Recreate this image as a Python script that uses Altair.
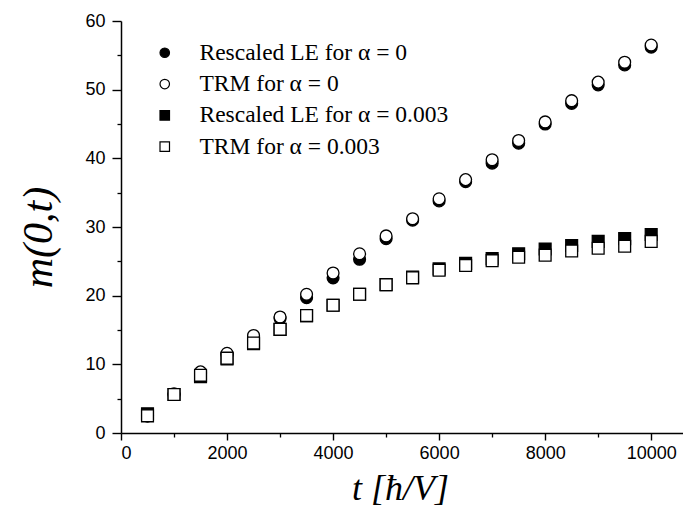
import altair as alt
import pandas as pd

# ---- data ----
t_values = [500, 1000, 1500, 2000, 2500, 3000, 3500, 4000, 4500, 5000,
            5500, 6000, 6500, 7000, 7500, 8000, 8500, 9000, 9500, 10000]

le_alpha0 = [2.5, 5.6, 8.7, 11.4, 14.0, 16.7, 19.7, 22.6, 25.3, 28.3,
             31.0, 33.8, 36.6, 39.3, 42.2, 45.0, 48.0, 50.7, 53.6, 56.2]
trm_alpha0 = [2.5, 5.7, 8.9, 11.6, 14.2, 16.9, 20.2, 23.3, 26.1, 28.7,
              31.2, 34.1, 36.9, 39.8, 42.6, 45.3, 48.4, 51.1, 54.0, 56.5]
le_alpha003 = [2.8, 5.6, 8.2, 10.8, 13.0, 15.1, 17.1, 18.6, 20.2, 21.6,
               22.7, 23.9, 24.7, 25.4, 26.1, 26.8, 27.3, 27.9, 28.3, 28.9]
trm_alpha003 = [2.5, 5.6, 8.4, 10.9, 13.1, 15.1, 17.1, 18.6, 20.2, 21.6,
                22.6, 23.7, 24.4, 25.1, 25.6, 25.9, 26.5, 26.9, 27.2, 27.9]

series_names = ["Rescaled LE for α = 0", "TRM for α = 0",
                "Rescaled LE for α = 0.003", "TRM for α = 0.003"]
series_shapes = ["circle", "circle", "square", "square"]
series_fills = ["black", "white", "black", "white"]
series_strokes = ["black", "black", "black", "black"]

x_major = [0, 2000, 4000, 6000, 8000, 10000]
x_minor = [1000, 3000, 5000, 7000, 9000]
y_major = [0, 10, 20, 30, 40, 50, 60]
y_minor = [5, 15, 25, 35, 45, 55]

rows = []
for i, (name, vals) in enumerate(zip(series_names,
                                     [le_alpha0, trm_alpha0, le_alpha003, trm_alpha003])):
    for tv, mv in zip(t_values, vals):
        rows.append({"t": tv, "m": mv, "series": name, "layer": i})
df = pd.DataFrame(rows)

x_scale = alt.Scale(domain=[0, 10600], nice=False, zero=False)
y_scale = alt.Scale(domain=[0, 60], nice=False)

SERIF = "Times New Roman, Liberation Serif, serif"

legend = alt.Legend(
    orient="none", legendX=32, legendY=20, title=None,
    labelFont=SERIF, labelFontSize=23.5, labelColor="black",
    labelLimit=0, labelOffset=23, rowPadding=6.3, padding=0,
    symbolSize=90, symbolStrokeWidth=1.2,
)

points = alt.Chart(df).mark_point(
    filled=True, size=140, strokeWidth=1.3, opacity=1
).encode(
    x=alt.X("t:Q", scale=x_scale,
            axis=alt.Axis(orient="bottom", values=x_major, format="d",
                          title="t [ħ/V]", titleFont=SERIF,
                          titleFontStyle="italic", titleFontWeight="normal",
                          titleFontSize=36, titleColor="black",
                          titleX=279, titleY=66, titleBaseline="alphabetic",
                          titleAlign="center",
                          labelFont="Liberation Sans", labelFontSize=18,
                          labelColor="black", labelPadding=4,
                          tickSize=7, tickWidth=1.4, tickColor="black",
                          domainColor="black", domainWidth=1.5, grid=False)),
    y=alt.Y("m:Q", scale=y_scale,
            axis=alt.Axis(orient="left", values=y_major, format="d",
                          title="m(0,t)", titleFont=SERIF,
                          titleFontStyle="italic", titleFontWeight="normal",
                          titleFontSize=42, titleColor="black",
                          titleAngle=270, titleX=-83, titleY=216,
                          titleAlign="center", titleBaseline="middle",
                          labelFont="Liberation Sans", labelFontSize=18,
                          labelColor="black", labelPadding=7,
                          tickSize=9, tickWidth=1.4, tickColor="black",
                          domainColor="black", domainWidth=1.5, grid=False)),
    shape=alt.Shape("series:N",
                    scale=alt.Scale(domain=series_names, range=series_shapes),
                    legend=legend),
    fill=alt.Fill("series:N",
                  scale=alt.Scale(domain=series_names, range=series_fills),
                  legend=legend),
    stroke=alt.Stroke("series:N",
                      scale=alt.Scale(domain=series_names, range=series_strokes),
                      legend=legend),
    order=alt.Order("layer:Q"),
)

minor = alt.Chart(df).mark_point(opacity=0).encode(
    x=alt.X("t:Q", scale=x_scale,
            axis=alt.Axis(orient="bottom", values=x_minor, labels=False,
                          domain=False, tickSize=4, tickWidth=1.3,
                          tickColor="black", title=None, grid=False)),
    y=alt.Y("m:Q", scale=y_scale,
            axis=alt.Axis(orient="left", values=y_minor, labels=False,
                          domain=False, tickSize=4, tickWidth=1.3,
                          tickColor="black", title=None, grid=False)),
)

chart = alt.layer(points, minor).resolve_axis(
    x="independent", y="independent"
).properties(
    width=562, height=412, autosize="none",
    padding={"left": 121, "top": 21, "right": 0, "bottom": 73},
    background="white",
).configure_view(stroke=None)

chart.save("out.html", embed_options={"renderer": "svg", "actions": False})
